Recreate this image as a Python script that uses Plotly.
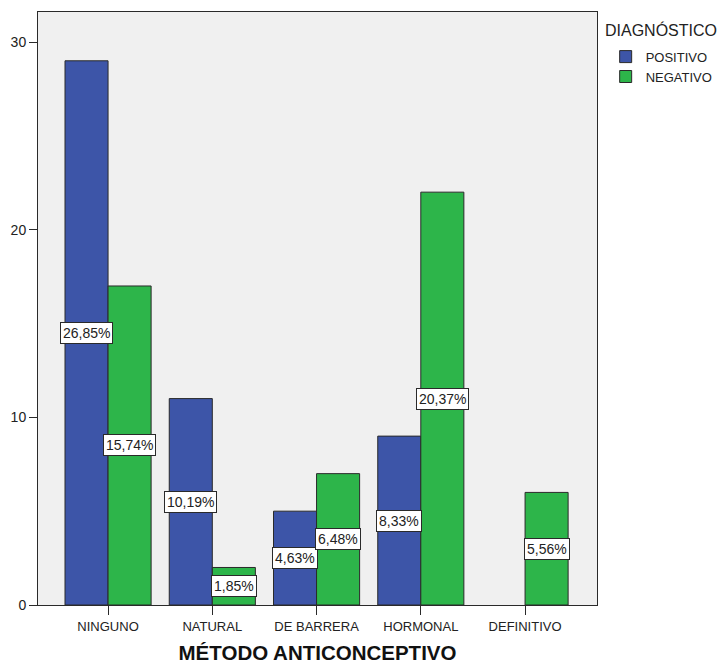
import plotly.graph_objects as go

# Counts per contraceptive method, split by diagnosis
categorias = ["NINGUNO", "NATURAL", "DE BARRERA", "HORMONAL", "DEFINITIVO"]
positivo = [29, 11, 5, 9, 0]
negativo = [17, 2, 7, 22, 6]
y_ticks = [0, 10, 20, 30]

total = sum(positivo) + sum(negativo)

COLOR_POS = "#3D55A8"
COLOR_NEG = "#2DB54A"
FONT = "Liberation Sans, Arial, sans-serif"
EDGE = "#2a2a2a"

idx = list(range(len(categorias)))
bargap = 0.174
half = (1 - bargap) / 4  # center offset of each bar inside its group


def visible(vals):
    # empty cells are left out instead of drawn as flat bars
    return [v if v > 0 else None for v in vals]


fig = go.Figure()
fig.add_trace(go.Bar(x=idx, y=visible(positivo), name="POSITIVO",
                     marker=dict(color=COLOR_POS, line=dict(color=EDGE, width=1))))
fig.add_trace(go.Bar(x=idx, y=visible(negativo), name="NEGATIVO",
                     marker=dict(color=COLOR_NEG, line=dict(color=EDGE, width=1))))


def pct(v):
    return f"{v / total * 100:.2f}".replace(".", ",") + "%"


# Percentage labels placed at half height of each bar
for serie, shift in ((positivo, -half), (negativo, half)):
    for i, v in zip(idx, serie):
        if v <= 0:
            continue
        fig.add_annotation(x=i + shift, y=v / 2, text=pct(v), showarrow=False,
                           bgcolor="white", bordercolor=EDGE, borderwidth=1,
                           borderpad=2, font=dict(family=FONT, size=14, color="#222"))

# Legend heading
fig.add_annotation(xref="paper", yref="paper", x=1.0105, y=1.0, xanchor="left",
                   yanchor="top", yshift=-7, text="DIAGNÓSTICO", showarrow=False,
                   font=dict(family=FONT, size=16, color="#222"))

fig.update_layout(
    width=726, height=664,
    margin=dict(l=38, r=129, t=12, b=59, autoexpand=False),
    barmode="group", bargap=bargap, bargroupgap=0,
    plot_bgcolor="#F0F0F0", paper_bgcolor="white",
    font=dict(family=FONT, size=13, color="#222"),
    legend=dict(x=1.0155, y=0.95, xanchor="left", yanchor="top",
                font=dict(size=13, color="#222"), tracegroupgap=0,
                itemwidth=30, bgcolor="rgba(0,0,0,0)"),
    xaxis=dict(range=[-0.672, 4.69], tickvals=idx, ticktext=categorias,
               ticks="outside", ticklen=9, tickcolor=EDGE, automargin=False,
               showline=True, linecolor=EDGE, linewidth=1, mirror=True,
               showgrid=False, zeroline=False,
               tickfont=dict(size=13, color="#222"),
               title=dict(text="<b>MÉTODO ANTICONCEPTIVO</b>", standoff=15,
                          font=dict(family=FONT, size=20.5, color="#111"))),
    yaxis=dict(range=[0, 31.6], tickvals=y_ticks, automargin=False,
               ticks="outside", ticklen=8, tickcolor=EDGE,
               showline=True, linecolor=EDGE, linewidth=1, mirror=True,
               showgrid=False, zeroline=False,
               tickfont=dict(size=14, color="#222")),
)

fig.write_html("out.html")
